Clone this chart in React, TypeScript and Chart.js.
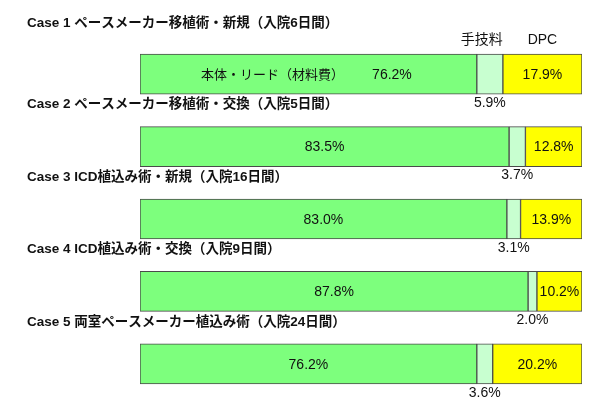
import React, { useEffect, useRef } from "react";
import { Chart, registerables } from "chart.js";

Chart.register(...registerables);

const categories = [
  "Case 1 ペースメーカー移植術・新規（入院6日間）",
  "Case 2 ペースメーカー移植術・交換（入院5日間）",
  "Case 3 ICD植込み術・新規（入院16日間）",
  "Case 4 ICD植込み術・交換（入院9日間）",
  "Case 5 両室ペースメーカー植込み術（入院24日間）",
];
const seriesNames = ["本体・リード（材料費）", "手技料", "DPC"];
const materialValues = [76.2, 83.5, 83.0, 87.8, 76.2];
const procedureValues = [5.9, 3.7, 3.1, 2.0, 3.6];
const dpcValues = [17.9, 12.8, 13.9, 10.2, 20.2];

const FONT = '"Liberation Sans", Arial, "Noto Sans CJK JP", sans-serif';
const BAR_H = 40;

const labelPlugin = {
  id: "caseLabels",
  afterDatasetsDraw(chart: any) {
    const ctx = chart.ctx;
    const xs = chart.scales.x;
    const ys = chart.scales.y;
    ctx.save();
    ctx.fillStyle = "#111";
    categories.forEach((cat, i) => {
      const yc = ys.getPixelForValue(i);
      const top = yc - BAR_H / 2;
      const bottom = yc + BAR_H / 2;
      // title
      ctx.font = "bold 13.5px " + FONT;
      ctx.textAlign = "left";
      ctx.textBaseline = "middle";
      ctx.fillText(cat, 27, i === 0 ? yc - 51 : yc - 42);

      const m = materialValues[i];
      const p = procedureValues[i];
      const d = dpcValues[i];
      ctx.textAlign = "center";
      // material label
      if (i === 0) {
        ctx.font = "13px " + FONT;
        ctx.fillText(seriesNames[0], xs.getPixelForValue(30), yc + 1);
        ctx.font = "14px " + FONT;
        ctx.fillText(m.toFixed(1) + "%", xs.getPixelForValue(57), yc + 1);
      } else {
        ctx.font = "14px " + FONT;
        ctx.fillText(m.toFixed(1) + "%", xs.getPixelForValue(m / 2), yc + 1);
      }
      // procedure label below bar
      const pc = xs.getPixelForValue(m + p / 2);
      ctx.textBaseline = "top";
      ctx.fillText(p.toFixed(1) + "%", pc, bottom + 2);
      // dpc label
      ctx.textBaseline = "middle";
      ctx.fillText(d.toFixed(1) + "%", xs.getPixelForValue(m + p + d / 2), yc + 1);
      if (i === 0) {
        ctx.textBaseline = "bottom";
        ctx.fillText(seriesNames[1], pc - 8, top - 7);
        ctx.fillText(seriesNames[2], xs.getPixelForValue(m + p + d / 2), top - 7);
      }
    });
    ctx.restore();
  },
};

export default function App() {
  const ref = useRef<HTMLCanvasElement | null>(null);
  useEffect(() => {
    if (!ref.current) return;
    const ds = (label: string, data: number[], color: string) => ({
      label,
      data,
      backgroundColor: color,
      borderColor: "#4a4a4a",
      borderWidth: 1,
      borderSkipped: false,
      barThickness: BAR_H,
    });
    const chart = new Chart(ref.current, {
      type: "bar",
      data: {
        labels: categories,
        datasets: [
          ds(seriesNames[0], materialValues, "#7DFF7D"),
          ds(seriesNames[1], procedureValues, "#C8FFD0"),
          ds(seriesNames[2], dpcValues, "#FFFF00"),
        ],
      },
      options: {
        indexAxis: "y",
        responsive: false,
        animation: false,
        layout: { padding: { left: 140, right: 18, top: 38, bottom: 0 } },
        plugins: { legend: { display: false }, tooltip: { enabled: false } },
        scales: {
          x: { stacked: true, min: 0, max: 100, display: false },
          y: { stacked: true, display: false },
        },
      },
      plugins: [labelPlugin],
    });
    return () => chart.destroy();
  }, []);
  return (
    <div style={{ position: "fixed", left: 0, top: 0, width: 600, height: 400, background: "#fff" }}>
      <canvas ref={ref} width={600} height={400} />
    </div>
  );
}
